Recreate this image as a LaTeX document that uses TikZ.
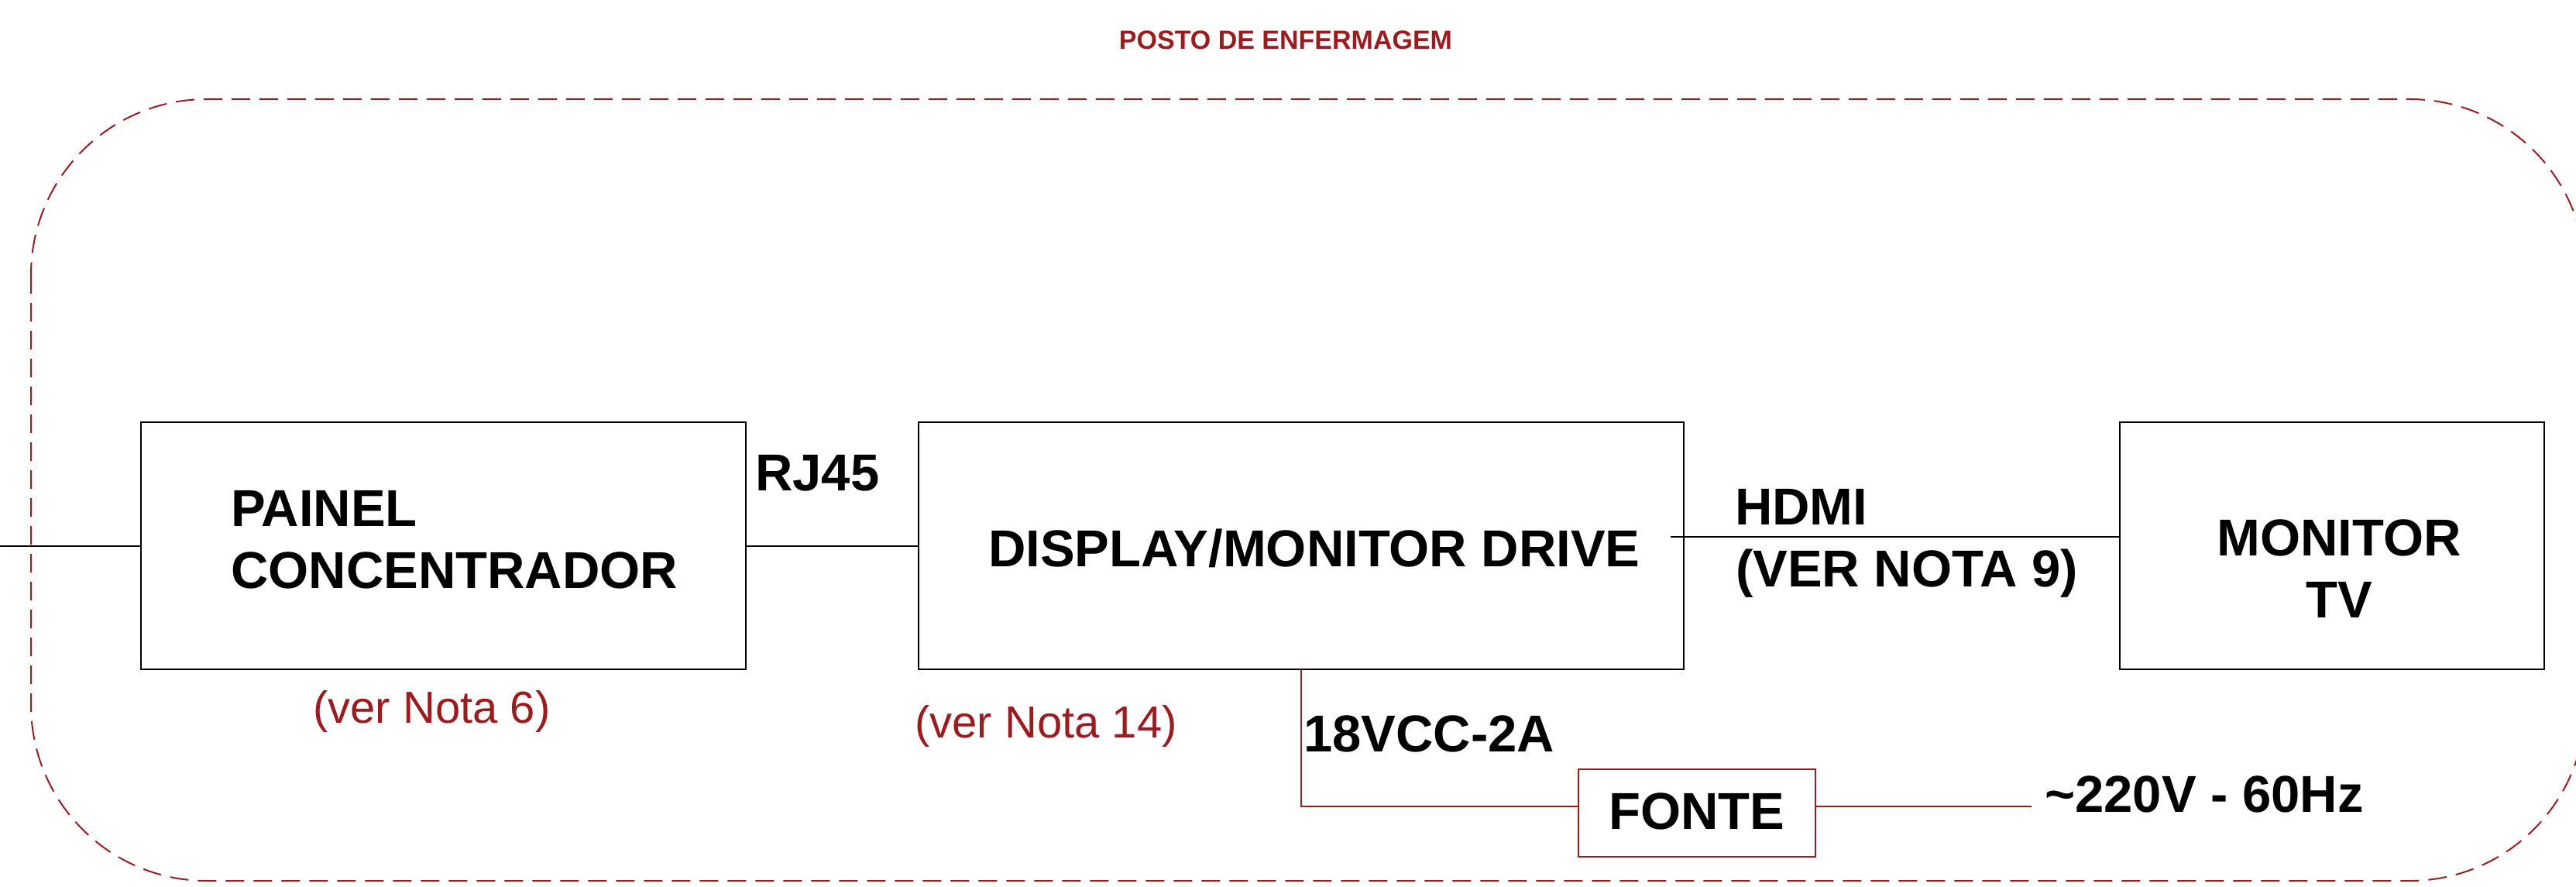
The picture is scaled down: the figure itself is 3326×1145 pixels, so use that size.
\documentclass[tikz,border=0pt]{standalone}
\usepackage{fontspec}
\setmainfont{Liberation Sans}
\definecolor{dred}{RGB}{155,27,31}
\begin{document}
\begin{tikzpicture}[x=1pt,y=-1pt,
  blk/.style={draw=black,line width=2.2pt,inner sep=0pt,outer sep=0pt},
  rblk/.style={draw=dred,line width=2.2pt,inner sep=0pt,outer sep=0pt},
  lbl/.style={inner sep=0pt,font=\fontsize{67}{80}\selectfont\bfseries,anchor=base west},
  clbl/.style={inner sep=0pt,font=\fontsize{67}{80}\selectfont\bfseries,anchor=base},
  note/.style={inner sep=0pt,font=\fontsize{58}{68}\selectfont,text=dred,anchor=base west},
  wire/.style={draw=black,line width=2pt},
  pwr/.style={draw=dred,line width=2pt},
  enc/.style={draw=dred,line width=2pt,dash pattern=on 24pt off 12pt,rounded corners=227pt}]
\useasboundingbox (0,0) rectangle (3326,1145);
\clip (0,0) rectangle (3326,1145);
% enclosure
\draw[enc] (40,128) rectangle (3338,1137);
\node[inner sep=0pt,font=\fontsize{34}{40}\selectfont\bfseries,text=dred,anchor=base] (title) at (1660,64) {POSTO DE ENFERMAGEM};
% boxes
\node[blk,minimum width=781pt,minimum height=319pt] (painel) at (572.5,704.5) {};
\node[blk,minimum width=988pt,minimum height=319pt] (display) at (1680,704.5) {};
\node[blk,minimum width=548pt,minimum height=319pt] (monitor) at (3011,704.5) {};
\node[rblk,minimum width=306pt,minimum height=113pt] (fonte) at (2191,1049.5) {};
% labels
\node[lbl] (l1) at (298,679) {PAINEL};
\node[lbl] (l2) at (298,759) {CONCENTRADOR};
\node[lbl] (rj) at (975,633) {RJ45};
\node[lbl] (ld) at (1276,731) {DISPLAY/MONITOR DRIVE};
\node[lbl] (hd) at (2240,677) {HDMI};
\node[lbl] (hn) at (2241,757) {(VER NOTA 9)};
\node[clbl] (m1) at (3020,717) {MONITOR};
\node[clbl] (m2) at (3020,797) {TV};
\node[note] (n6) at (404,933) {(ver Nota 6)};
\node[note] (n14) at (1181,952) {(ver Nota 14)};
\node[lbl] (vcc) at (1683,970) {18VCC-2A};
\node[lbl] (lf) at (2077,1070) {FONTE};
\node[lbl] (ac) at (2640,1048) {{\char"7E}220V - 60Hz};
% connectors
\coordinate (lin) at (0,704.5);
\draw[wire] (lin) -- (painel.west);
\draw[wire] (painel.east) -- (display.west);
\coordinate (h1) at (2157,693);
\draw[wire] (h1) -- (h1 -| monitor.west);
\draw[pwr] (display.south) |- ([yshift=8.5pt]fonte.west);
\coordinate (acend) at (2623,1041);
\draw[pwr] ([yshift=8.5pt]fonte.east) -- (acend);
\end{tikzpicture}
\end{document}
